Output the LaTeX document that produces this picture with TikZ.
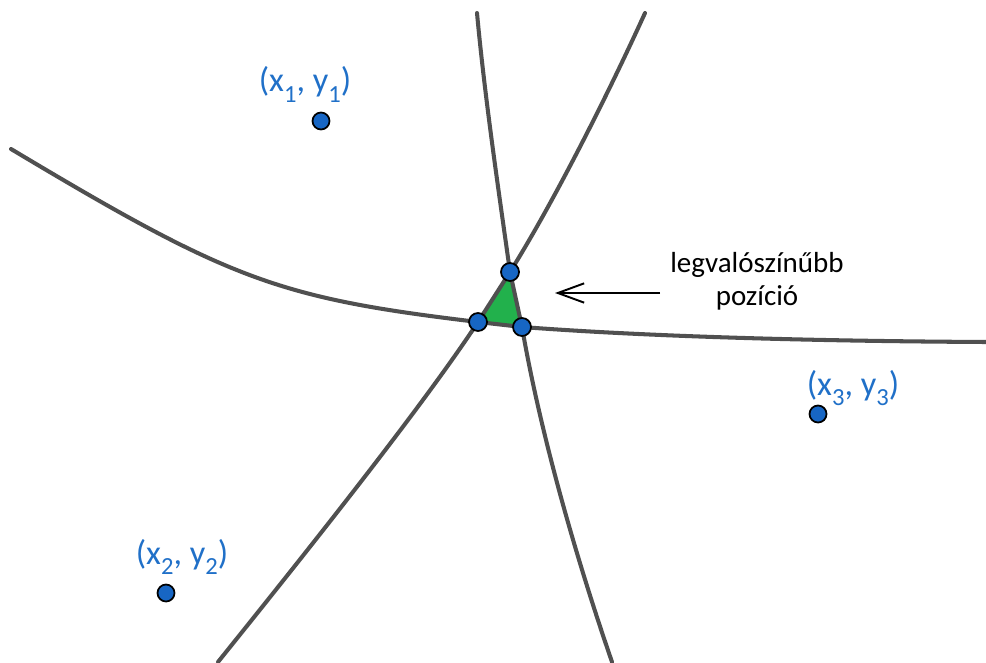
\documentclass[tikz,border=0pt]{standalone}
\usepackage{fontspec}
\setmainfont{Carlito}
\usepackage{tikz}
\usetikzlibrary{arrows.meta}
\usepackage{xcolor}

\definecolor{curvegray}{RGB}{80,80,80}
\definecolor{dotblue}{RGB}{23,102,196}
\definecolor{labelblue}{RGB}{32,112,200}
\definecolor{areagreen}{RGB}{34,177,76}

\newcommand{\lowsub}[1]{\raisebox{-0.3em}{\fontsize{14}{16}\selectfont #1}}

\begin{document}
\begin{tikzpicture}[x=0.02cm, y=-0.02cm,
    curve/.style={draw=curvegray, line width=2.3pt, line cap=round},
    dot/.style={circle, draw=black, line width=1pt, fill=dotblue, inner sep=0pt, minimum size=0.34cm},
    coordlabel/.style={anchor=base, text=labelblue, font=\fontsize{19.5}{22}\selectfont}]
    \useasboundingbox (0,0) rectangle (986,662);

    % Intersection points
    \coordinate (ptop) at (510,272);
    \coordinate (pleft) at (478,322);
    \coordinate (pright) at (522,327);

    % Most likely area
    \fill[areagreen] (ptop) -- (pleft) -- (pright) -- cycle;

    % Hyperbolas
    \draw[curve] (477,13) .. controls (485,100) and (500,200) .. (ptop) -- (pright)
        .. controls (538,420) and (570,540) .. (612,662);
    \draw[curve] (645,13) .. controls (610,90) and (555,200) .. (ptop) -- (pleft)
        .. controls (420,410) and (300,560) .. (218,662);
    \draw[curve] (11,149) .. controls (230,280) and (277,298) .. (pleft) -- (pright)
        .. controls (640,336) and (800,341) .. (986,342);

    % Intersection dots
    \node[dot, minimum size=0.36cm] (dtop) at (ptop) {};
    \node[dot, minimum size=0.36cm] (dleft) at (pleft) {};
    \node[dot, minimum size=0.36cm] (dright) at (pright) {};

    % Stations
    \node[dot] (st1) at (321,121) {};
    \node[dot] (st2) at (166,593) {};
    \node[dot] (st3) at (818,414) {};
    \node[coordlabel] (lab1) at (305,92) {(x\lowsub{1}, y\lowsub{1})};
    \node[coordlabel] (lab2) at (182,564) {(x\lowsub{2}, y\lowsub{2})};
    \node[coordlabel] (lab3) at (853,395) {(x\lowsub{3}, y\lowsub{3})};

    % Annotation
    \node[align=center, font=\fontsize{16.5}{18.8}\selectfont] (best) at (757,281) {legvalószínűbb\\pozíció};
    \coordinate (arrowtail) at (660,293);
    \coordinate (arrowtip) at (555,293);
    \draw[line width=1.1pt, -{Straight Barb[length=15pt, width=11pt]}] (arrowtail) -- (arrowtip);
\end{tikzpicture}
\end{document}
